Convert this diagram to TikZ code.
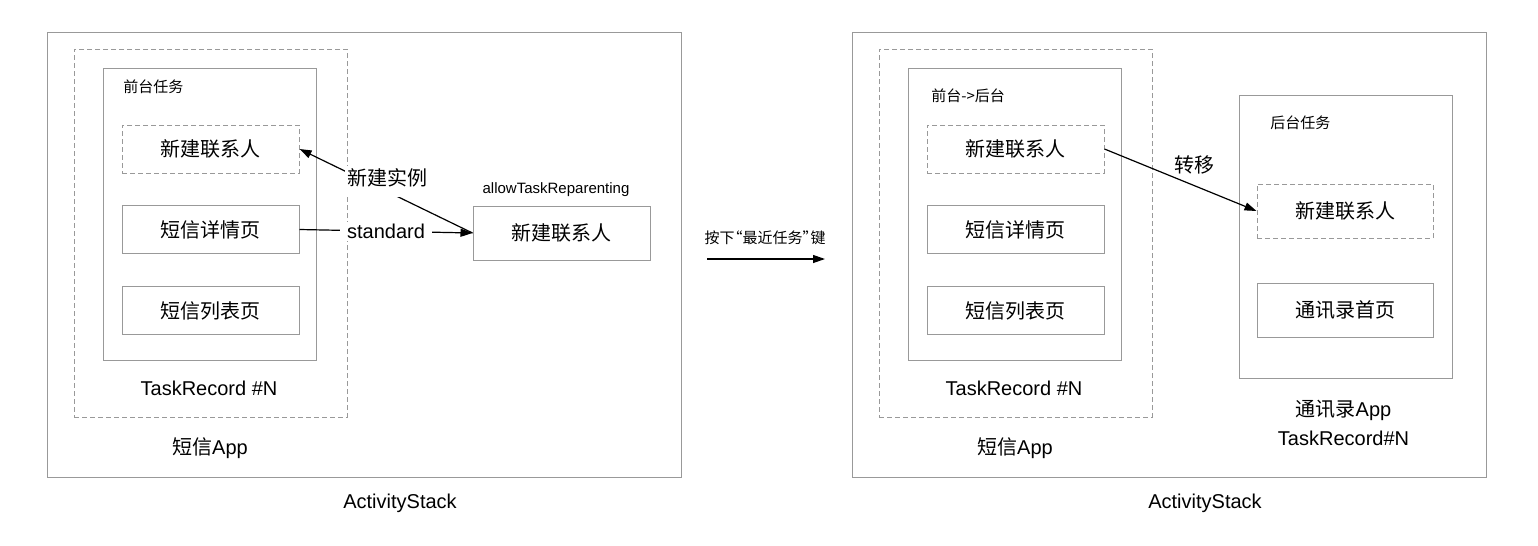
\documentclass[tikz,border=0pt]{standalone}
\usepackage{fontspec}
\setmainfont{Liberation Sans}
\newfontfamily\cjk{Noto Sans CJK SC}
\usetikzlibrary{arrows.meta}

\begin{document}
\begin{tikzpicture}[x=0.5pt, y=-0.5pt,
  frame/.style={draw=black!40, line width=0.5pt, inner sep=0pt},
  dashframe/.style={frame, dash pattern=on 2.5pt off 1.5pt},
  page/.style={minimum width=88.5pt, minimum height=24pt, font=\cjk\fontsize{10}{12}\selectfont},
  tag/.style={font=\cjk\fontsize{7.5}{9}\selectfont, anchor=west, inner sep=0pt},
  title/.style={font=\fontsize{10}{14.5}\selectfont, inner sep=0pt, align=center},
  link/.style={draw, line width=0.6pt, -{Triangle[length=6pt,width=4pt]}},
]
\useasboundingbox (0,0) rectangle (1538,546);

% left: before
\node[frame, minimum width=317pt, minimum height=222.5pt] (stackL) at (364,254.5) {};
\node[dashframe, minimum width=136.5pt, minimum height=184pt] (appL) at (210.5,233) {};
\node[frame, minimum width=106.5pt, minimum height=146pt] (taskL) at (209.5,214) {};

\node[tag] (foreL) at (123,87) {前台任务};
\node[page, dashframe] (newL) at (210.5,149) {新建联系人};
\node[page, frame] (detailL) at (210.5,229.5) {短信详情页};
\node[page, frame] (listL) at (210.5,310.5) {短信列表页};

\node[title] (recL) at (209,388) {TaskRecord \#N};
\node[title] (smsL) at (210,448) {{\cjk 短信}App};
\node[title] (stackLtxt) at (400,503) {ActivityStack};

\node[page, frame, minimum height=27pt] (newR) at (561.5,233) {新建联系人};
\node[title, font=\fontsize{7.5}{9}\selectfont] (allowtxt) at (556,190) {allowTaskReparenting};

\draw[link] (newR.west) -- (newL.east);
\node[font=\cjk\fontsize{10}{12}\selectfont, fill=white, anchor=base, inner sep=1pt, text depth=5pt] (newtxt) at (387,185) {新建实例};
\draw[link] (detailL.east) -- node[midway, fill=white, inner xsep=3.5pt, inner ysep=1pt, font=\fontsize{10}{12}\selectfont] (stdtxt) {standard} (newR.west);

% middle
\coordinate (goL) at (707,259);
\coordinate (goR) at (825,259);
\draw[link] (goL) -- (goR);
\node[tag, anchor=center] (keytxt) at (765,238) {按下\kern-3.5pt“最近任务”\kern-3.5pt键};

% right: after
\node[frame, minimum width=317pt, minimum height=222.5pt] (stackR) at (1169,254.5) {};
\node[dashframe, minimum width=136.5pt, minimum height=184pt] (appR) at (1015.5,233) {};
\node[frame, minimum width=106.5pt, minimum height=146pt] (taskR) at (1014.5,214) {};

\node[tag] (foreR) at (931,96) {前台->后台};
\node[page, dashframe] (newL2) at (1015.5,149) {新建联系人};
\node[page, frame] (detailR) at (1015.5,229.5) {短信详情页};
\node[page, frame] (listR) at (1015.5,310.5) {短信列表页};

\node[title] (recR) at (1014,388) {TaskRecord \#N};
\node[title] (smsR) at (1015,448) {{\cjk 短信}App};
\node[title] (stackRtxt) at (1205,503) {ActivityStack};

\node[frame, minimum width=106.5pt, minimum height=141.5pt] (taskC) at (1345.5,236.5) {};
\node[tag] (backC) at (1270,123) {后台任务};
\node[page, dashframe, minimum width=88pt, minimum height=27pt] (newC) at (1345,211) {新建联系人};
\node[page, frame, minimum width=88pt, minimum height=27pt] (homeC) at (1345,310) {通讯录首页};
\node[title] (contC) at (1343.5,422.5) {{\cjk 通讯录}App\\TaskRecord\#N};

\draw[link] (newL2.east) -- (newC.west);
\node[font=\cjk\fontsize{10}{12}\selectfont, inner sep=0pt] (movetxt) at (1194,165) {转移};
\end{tikzpicture}
\end{document}
